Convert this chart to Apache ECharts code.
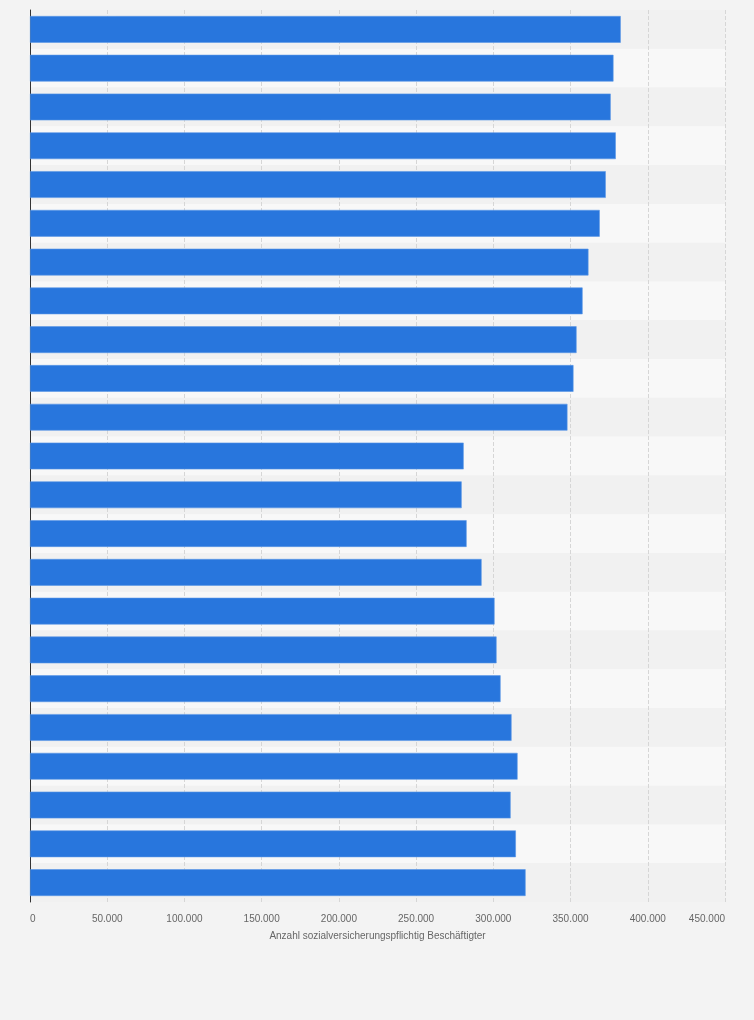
<!DOCTYPE html>
<html>
<head>
<meta charset="utf-8">
<script src="https://cdn.jsdelivr.net/npm/echarts@6/dist/echarts.min.js"></script>
<style>
html,body{margin:0;padding:0;background:#f3f3f3;}
#chart{width:754px;height:1020px;}
</style>
</head>
<body>
<div id="chart"></div>
<script>
// Categories (labels are not shown in the reference; order top to bottom)
var categories = ['1','2','3','4','5','6','7','8','9','10','11','12','13','14','15','16','17','18','19','20','21','22','23'];
// Employees subject to social insurance
var values = [382500, 377800, 376000, 379300, 372800, 368900, 361600, 357800, 353900, 351900, 348000,
              280800, 279500, 282700, 292400, 300800, 302100, 304700, 311800, 315700, 311200, 314600, 320900];
var xTicks = {min: 0, max: 450000, interval: 50000};
var axisTitle = 'Anzahl sozialversicherungspflichtig Beschäftigter';

var chart = echarts.init(document.getElementById('chart'), null, {renderer: 'canvas'});
chart.setOption({
  backgroundColor: '#f3f3f3',
  animation: false,
  grid: {left: 30, right: 29, top: 10, bottom: 118, containLabel: false},
  xAxis: {
    type: 'value',
    min: xTicks.min, max: xTicks.max, interval: xTicks.interval,
    name: axisTitle,
    nameLocation: 'middle',
    nameGap: 29,
    nameTextStyle: {color: '#666', fontSize: 10, fontFamily: 'Liberation Sans, Arial, sans-serif'},
    axisLine: {show: false},
    axisTick: {show: false},
    axisLabel: {
      color: '#666', fontSize: 10, margin: 12,
      alignMinLabel: 'left', alignMaxLabel: 'right',
      fontFamily: 'Liberation Sans, Arial, sans-serif',
      formatter: function (v) { return v.toString().replace(/\B(?=(\d{3})+(?!\d))/g, '.'); }
    },
    splitLine: {show: true, lineStyle: {color: '#d6d6d6', type: 'dashed', width: 1}}
  },
  yAxis: {
    type: 'category',
    data: categories,
    inverse: true,
    axisLine: {show: true, lineStyle: {color: '#333', width: 1}},
    axisTick: {show: false},
    axisLabel: {show: false},
    splitLine: {show: false},
    splitArea: {show: true, areaStyle: {color: ['#f1f1f1', '#f8f8f8']}}
  },
  series: [{
    type: 'bar',
    data: values,
    barCategoryGap: '31%',
    itemStyle: {color: '#2876dd', borderColor: '#5b97e6', borderWidth: 0.6}
  }]
});
</script>
</body>
</html>
